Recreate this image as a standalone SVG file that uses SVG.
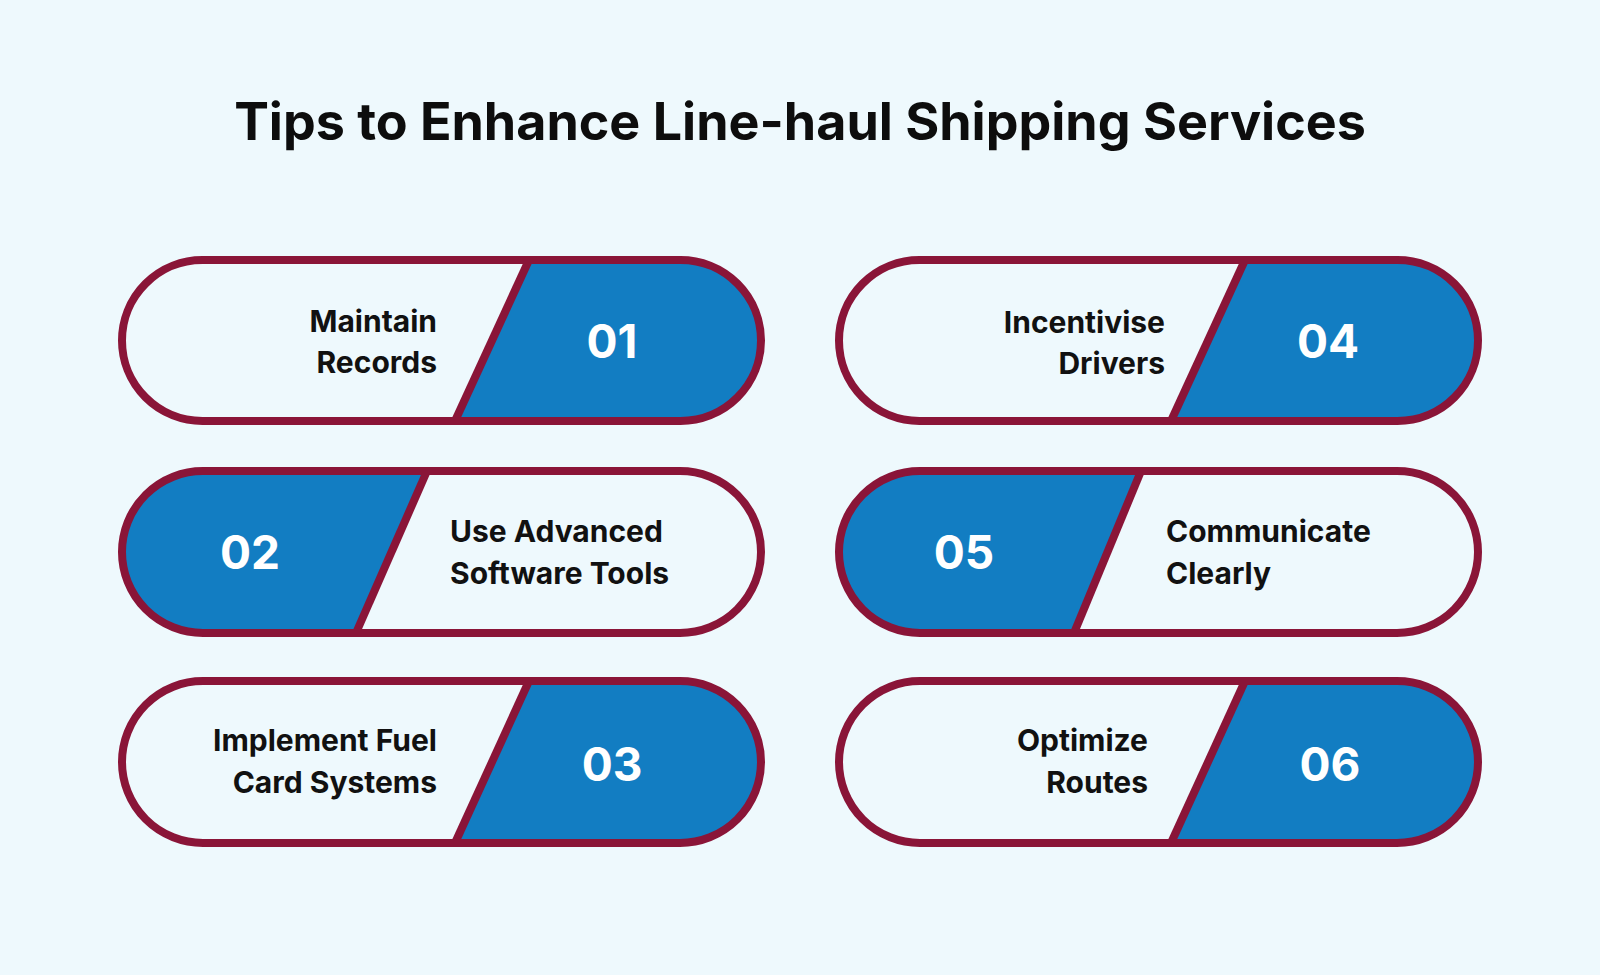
<svg xmlns="http://www.w3.org/2000/svg" width="1600" height="975" viewBox="0 0 1600 975">
<style>
.bg{fill:#eef9fd}
.pill{fill:#eef9fd}
.out{fill:none;stroke:#8a1538;stroke-width:8}
.blue{fill:#127dc2}
.div{stroke:#8a1538;stroke-width:8}
.num{font-family:Inter,"Open Sans",sans-serif;font-weight:700;font-size:46px;fill:#fff;text-anchor:middle}
.lbl{font-family:Inter,"Open Sans",sans-serif;font-weight:700;font-size:30px;fill:#111}
.r{text-anchor:end}
.title{font-family:Inter,"Open Sans",sans-serif;font-weight:700;font-size:52px;fill:#0d0d0d;text-anchor:middle}
</style>
<defs>
<clipPath id="cL1"><rect x="122" y="260" width="639" height="161" rx="80.5"/></clipPath>
<clipPath id="cL2"><rect x="122" y="471" width="639" height="162" rx="81"/></clipPath>
<clipPath id="cL3"><rect x="122" y="681" width="639" height="162" rx="81"/></clipPath>
<clipPath id="cR1"><rect x="839" y="260" width="639" height="161" rx="80.5"/></clipPath>
<clipPath id="cR2"><rect x="839" y="471" width="639" height="162" rx="81"/></clipPath>
<clipPath id="cR3"><rect x="839" y="681" width="639" height="162" rx="81"/></clipPath>
</defs>
<rect class="bg" width="1600" height="975"/>
<text class="title" x="800" y="140">Tips to Enhance Line-haul Shipping Services</text>
<g id="node-01">
<rect class="pill" x="122" y="260" width="639" height="161" rx="80.5"/>
<polygon class="blue" clip-path="url(#cL1)" points="529,255 800,255 800,430 455,430"/>
<line class="div" x1="529" y1="260" x2="455" y2="421"/>
<rect class="out" x="122" y="260" width="639" height="161" rx="80.5"/>
<text class="num" x="612" y="358">01</text>
<text class="lbl r" x="437" y="332">Maintain</text>
<text class="lbl r" x="437" y="373">Records</text>
</g>
<g id="node-02">
<rect class="pill" x="122" y="471" width="639" height="162" rx="81"/>
<polygon class="blue" clip-path="url(#cL2)" points="100,465 427,465 356,640 100,640"/>
<line class="div" x1="427" y1="471" x2="356" y2="633"/>
<rect class="out" x="122" y="471" width="639" height="162" rx="81"/>
<text class="num" x="250" y="569">02</text>
<text class="lbl" x="450" y="542">Use Advanced</text>
<text class="lbl" x="450" y="584">Software Tools</text>
</g>
<g id="node-03">
<rect class="pill" x="122" y="681" width="639" height="162" rx="81"/>
<polygon class="blue" clip-path="url(#cL3)" points="529,675 800,675 800,850 455,850"/>
<line class="div" x1="529" y1="681" x2="455" y2="843"/>
<rect class="out" x="122" y="681" width="639" height="162" rx="81"/>
<text class="num" x="612" y="781">03</text>
<text class="lbl r" x="437" y="751">Implement Fuel</text>
<text class="lbl r" x="437" y="793">Card Systems</text>
</g>
<g id="node-04">
<rect class="pill" x="839" y="260" width="639" height="161" rx="80.5"/>
<polygon class="blue" clip-path="url(#cR1)" points="1245,255 1500,255 1500,430 1171,430"/>
<line class="div" x1="1245" y1="260" x2="1171" y2="421"/>
<rect class="out" x="839" y="260" width="639" height="161" rx="80.5"/>
<text class="num" x="1328" y="358">04</text>
<text class="lbl r" x="1165" y="333">Incentivise</text>
<text class="lbl r" x="1165" y="374">Drivers</text>
</g>
<g id="node-05">
<rect class="pill" x="839" y="471" width="639" height="162" rx="81"/>
<polygon class="blue" clip-path="url(#cR2)" points="820,465 1141,465 1074,640 820,640"/>
<line class="div" x1="1141" y1="471" x2="1074" y2="633"/>
<rect class="out" x="839" y="471" width="639" height="162" rx="81"/>
<text class="num" x="964" y="569">05</text>
<text class="lbl" x="1166" y="542">Communicate</text>
<text class="lbl" x="1166" y="584">Clearly</text>
</g>
<g id="node-06">
<rect class="pill" x="839" y="681" width="639" height="162" rx="81"/>
<polygon class="blue" clip-path="url(#cR3)" points="1245,675 1500,675 1500,850 1171,850"/>
<line class="div" x1="1245" y1="681" x2="1171" y2="843"/>
<rect class="out" x="839" y="681" width="639" height="162" rx="81"/>
<text class="num" x="1330" y="781">06</text>
<text class="lbl r" x="1148" y="751">Optimize</text>
<text class="lbl r" x="1148" y="793">Routes</text>
</g>
<g id="connectors"/>
</svg>
